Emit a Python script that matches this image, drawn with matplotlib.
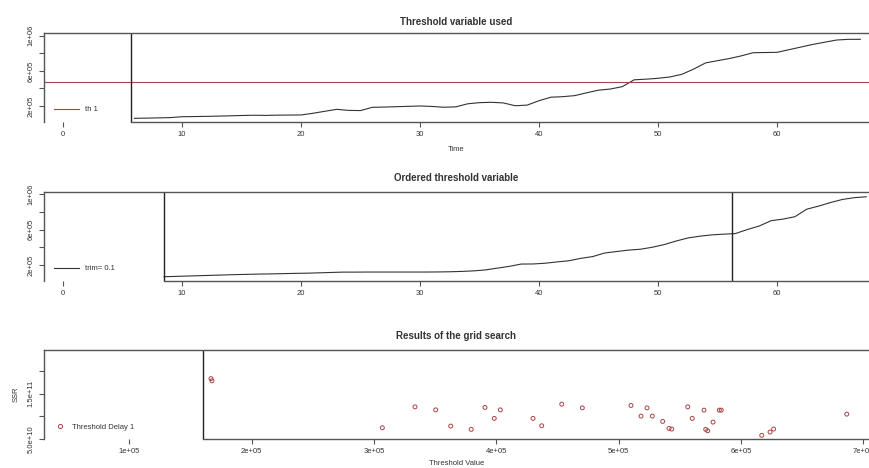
import matplotlib
matplotlib.use("Agg")
import matplotlib.pyplot as plt

plt.rcParams['font.family'] = ['Liberation Sans', 'DejaVu Sans']

# threshold variable over time
time = list(range(6, 68))
th_var = [60000, 62000, 65000, 68000, 78000, 80000, 82000, 85000, 88000, 92000,
          95000, 93000, 96000, 97000, 98000, 117000, 140000, 162000, 150000, 148000,
          185000, 188000, 192000, 196000, 200000, 195000, 186000, 190000, 225000, 238000,
          242000, 235000, 203000, 210000, 260000, 300000, 306000, 318000, 350000, 380000,
          393000, 420000, 498000, 505000, 515000, 530000, 560000, 620000, 690000, 715000,
          740000, 770000, 806000, 808000, 810000, 840000, 870000, 900000, 925000, 950000,
          958000, 958000]
th_value = 476000
th_start = 5.7

# ordered threshold variable
ord_idx = [i + 0.5 for i in range(8, 68)]
ord_var = [68000, 72000, 76000, 80000, 84000, 88000, 92000, 95000, 98000, 100000,
           103000, 106000, 108000, 112000, 116000, 120000, 120000, 121000, 121000, 121000,
           121000, 121000, 121000, 122000, 124000, 128000, 134000, 145000, 165000, 185000,
           211000, 212000, 220000, 235000, 248000, 275000, 295000, 335000, 352000, 368000,
           378000, 400000, 430000, 470000, 505000, 525000, 540000, 548000, 555000, 600000,
           640000, 700000, 718000, 745000, 830000, 865000, 905000, 940000, 960000, 970000]
trim_lo, trim_hi = 8.5, 56.2

# grid search results
grid_th = [166800, 167600, 306900, 333600, 350500, 362800, 379600, 390800, 398400,
           403400, 430100, 437200, 453600, 470400, 510200, 518400, 523300, 527600,
           536100, 541300, 543500, 556600, 560300, 569900, 571300, 572900, 577300,
           582400, 584000, 617100, 623900, 626800, 686600]
grid_ssr = [1.826e11, 1.778e11, 7.52e10, 1.209e11, 1.143e11, 7.89e10, 7.17e10, 1.196e11,
            9.57e10, 1.143e11, 9.57e10, 7.96e10, 1.267e11, 1.187e11, 1.239e11, 1.007e11,
            1.187e11, 1.007e11, 8.91e10, 7.39e10, 7.24e10, 1.209e11, 9.57e10, 1.137e11,
            7.17e10, 6.87e10, 8.76e10, 1.137e11, 1.137e11, 5.87e10, 6.59e10, 7.24e10,
            1.05e11]
grid_start = 160500

axis_col = '#555555'
text_col = '#333333'
line_col = '#333333'
red = '#a84444'


def style_axes(ax, frame_x, xticks, xlabels, yticks, ylabels):
    ax.spines['right'].set_visible(False)
    for s in ['top', 'left', 'bottom']:
        ax.spines[s].set_color(axis_col)
        ax.spines[s].set_linewidth(1.0)
    # box only starts where the data region starts
    ax.spines['bottom'].set_bounds(frame_x, ax.get_xlim()[1])
    ax.axvline(frame_x, color='#222222', lw=1.0)
    ax.set_xticks(xticks)
    ax.set_xticklabels(xlabels, fontsize=5.5, color=text_col)
    ax.set_yticks(yticks)
    ax.set_yticklabels(ylabels, fontsize=5.5, color=text_col, rotation=90, va='center')
    ax.tick_params(axis='both', direction='out', length=3.5, width=0.8,
                   color=axis_col, pad=3)


fig = plt.figure(figsize=(8.69, 4.68), dpi=100)

# panel 1
ax1 = fig.add_axes([0.0506, 0.7393, 0.9494, 0.1902])
ax1.plot(time, th_var, color=line_col, lw=0.8)
ax1.axhline(th_value, color=red, lw=0.8)
ax1.set_xlim(-1.6, 67.73)
ax1.set_ylim(18000, 1030000)
style_axes(ax1, th_start, [0, 10, 20, 30, 40, 50, 60],
           ['0', '10', '20', '30', '40', '50', '60'],
           [2e5, 4e5, 6e5, 8e5, 1e6], ['2e+05', '', '6e+05', '', '1e+06'])
ax1.legend(handles=[plt.Line2D([], [], color=red, lw=0.8)], labels=['th 1'],
           loc='lower left', bbox_to_anchor=(0.004, 0.02), frameon=False,
           fontsize=5.5, handlelength=3.3, labelcolor=text_col)
ax1.set_title('Threshold variable used', fontsize=7, fontweight='bold',
              color=text_col, pad=6)
ax1.set_xlabel('Time', fontsize=5.5, color=text_col, labelpad=6)

# panel 2
ax2 = fig.add_axes([0.0506, 0.3996, 0.9494, 0.1894])
ax2.plot(ord_idx, ord_var, color=line_col, lw=0.8)
ax2.set_xlim(-1.6, 67.73)
ax2.set_ylim(20000, 1020000)
style_axes(ax2, trim_lo, [0, 10, 20, 30, 40, 50, 60],
           ['0', '10', '20', '30', '40', '50', '60'],
           [2e5, 4e5, 6e5, 8e5, 1e6], ['2e+05', '', '6e+05', '', '1e+06'])
ax2.axvline(trim_hi, color='#222222', lw=1.0)
ax2.legend(handles=[plt.Line2D([], [], color=line_col, lw=0.8)], labels=['trim= 0.1'],
           loc='lower left', bbox_to_anchor=(0.004, 0.02), frameon=False,
           fontsize=5.5, handlelength=3.3, labelcolor=text_col)
ax2.set_title('Ordered threshold variable', fontsize=7, fontweight='bold',
              color=text_col, pad=8)

# panel 3
ax3 = fig.add_axes([0.0506, 0.0613, 0.9494, 0.1908])
ax3.scatter(grid_th, grid_ssr, s=8, facecolors='none', edgecolors=red, linewidths=0.7)
ax3.set_xlim(30250, 704800)
ax3.set_ylim(5.0e10, 2.45e11)
style_axes(ax3, grid_start, [1e5, 2e5, 3e5, 4e5, 5e5, 6e5, 7e5],
           ['1e+05', '2e+05', '3e+05', '4e+05', '5e+05', '6e+05', '7e+05'],
           [5e10, 1e11, 1.5e11, 2e11], ['5.0e+10', '', '1.5e+11', ''])
ax3.legend(handles=[plt.Line2D([], [], ls='none', marker='o', markersize=3,
                               markerfacecolor='none', markeredgecolor=red, mew=0.7)],
           labels=['Threshold Delay 1'], loc='lower left',
           bbox_to_anchor=(0.004, 0.02), frameon=False, fontsize=5.5,
           handlelength=1.5, labelcolor=text_col)
ax3.set_title('Results of the grid search', fontsize=7, fontweight='bold',
              color=text_col, pad=8)
ax3.set_xlabel('Threshold Value', fontsize=5.5, color=text_col, labelpad=3)
ax3.set_ylabel('SSR', fontsize=5.5, color=text_col, labelpad=6)

fig.savefig('out.png', dpi=100)
